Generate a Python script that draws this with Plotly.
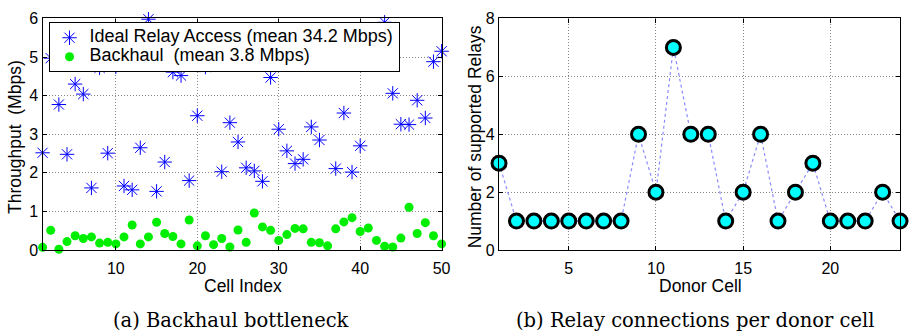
import plotly.graph_objects as go

cell_index = list(range(1, 51))
ideal_relay = [2.52, 4.97, 3.77, 2.48, 4.30, 4.04, 1.61, 4.72, 2.51, 4.75,
               1.66, 1.56, 2.65, 5.98, 1.52, 2.28, 4.61, 4.52, 1.80, 3.48,
               4.74, 5.40, 2.03, 3.30, 2.80, 2.13, 2.05, 1.78, 4.47, 3.13,
               2.57, 2.24, 2.35, 3.19, 2.85, 5.30, 2.11, 3.55, 2.02, 2.70,
               5.50, 5.20, 5.90, 4.06, 3.26, 3.25, 3.88, 3.42, 4.88, 5.15]
backhaul = [0.07, 0.51, 0.02, 0.22, 0.37, 0.30, 0.34, 0.18, 0.20, 0.16,
            0.34, 0.65, 0.16, 0.34, 0.72, 0.43, 0.35, 0.16, 0.78, 0.11,
            0.37, 0.14, 0.30, 0.08, 0.52, 0.20, 0.96, 0.60, 0.51, 0.25,
            0.40, 0.56, 0.55, 0.20, 0.19, 0.11, 0.55, 0.73, 0.84, 0.48,
            0.57, 0.25, 0.10, 0.08, 0.31, 1.11, 0.43, 0.71, 0.37, 0.16]
donor_cell = list(range(1, 25))
relays = [3, 1, 1, 1, 1, 1, 1, 1, 4, 2, 7, 4, 4, 1, 2, 4, 1, 2, 3, 1, 1, 1, 2, 1]

W, H = 914, 335
FONT = "Liberation Sans, Arial, sans-serif"
SERIF = "DejaVu Serif, serif"
LEG = '<span style="font-size:18px">%s</span>'

fig = go.Figure()
fig.add_trace(go.Scatter(x=cell_index, y=ideal_relay, mode="markers",
                         name=LEG % "Ideal Relay Access (mean 34.2 Mbps)",
                         marker=dict(symbol="asterisk-open", size=12, color="#0000ff",
                                     line=dict(color="#0000ff", width=1)),
                         cliponaxis=False, xaxis="x", yaxis="y"))
fig.add_trace(go.Scatter(x=cell_index, y=backhaul, mode="markers",
                         name=LEG % "Backhaul\u00a0 (mean 3.8 Mbps)",
                         marker=dict(symbol="circle", size=9, color="#00ee00"),
                         cliponaxis=False, xaxis="x", yaxis="y"))
fig.add_trace(go.Scatter(x=donor_cell, y=relays, mode="lines+markers", showlegend=False,
                         line=dict(color="rgba(60,60,255,0.6)", width=1.2, dash="dot"),
                         marker=dict(symbol="circle", size=14, color="#00ffff",
                                     line=dict(color="black", width=3)),
                         cliponaxis=False, xaxis="x2", yaxis="y2"))

ax_common = dict(showline=True, linecolor="black", linewidth=1.2, mirror="ticks",
                 ticks="inside", ticklen=4, tickcolor="black",
                 showgrid=True, gridcolor="#888888", griddash="1px,2px", gridwidth=1,
                 zeroline=False, tickfont=dict(family=FONT, size=16, color="black"))

yd = [(H - 255) / H, (H - 11) / H]
fig.update_layout(
    width=W, height=H, margin=dict(l=0, r=0, t=0, b=0),
    paper_bgcolor="white", plot_bgcolor="white",
    xaxis=dict(domain=[43 / W, 446 / W], range=[1, 50], tickvals=[10, 20, 30, 40, 50],
               anchor="y", ticklabelstandoff=4, **ax_common),
    yaxis=dict(domain=yd, range=[0, 6], tickvals=[0, 1, 2, 3, 4, 5, 6],
               anchor="x", **ax_common),
    xaxis2=dict(domain=[504 / W, 909 / W], range=[1, 24], tickvals=[5, 10, 15, 20],
                anchor="y2", ticklabelstandoff=4, **ax_common),
    yaxis2=dict(domain=yd, range=[0, 8], tickvals=[0, 2, 4, 6, 8],
                anchor="x2", **ax_common),
    legend=dict(x=49 / W, y=1 - 15 / H, xanchor="left", yanchor="top",
                bgcolor="white", bordercolor="black", borderwidth=1,
                font=dict(family=FONT, size=12, color="black"),
                tracegroupgap=0, itemwidth=30),
    showlegend=True,
)

ann = [
    dict(text="Cell Index", x=245 / W, y=1 - 293 / H, size=17.5, family=FONT, angle=0),
    dict(text="Donor Cell", x=707 / W, y=1 - 293 / H, size=17.5, family=FONT, angle=0),
    dict(text="Throughput\u00a0 (Mbps)", x=15 / W, y=1 - 136 / H, size=17.5, family=FONT, angle=-90),
    dict(text="Number of supported Relays", x=480 / W, y=1 - 136 / H, size=17.5, family=FONT, angle=-90),
    dict(text="(a) Backhaul bottleneck", x=233 / W, y=1 - 329 / H, size=19.5, family=SERIF, angle=0),
    dict(text="(b) Relay connections per donor cell", x=702 / W, y=1 - 329 / H, size=19.5, family=SERIF, angle=0),
]
for a in ann:
    fig.add_annotation(text=a["text"], x=a["x"], y=a["y"], xref="paper", yref="paper",
                       showarrow=False, textangle=a["angle"], xanchor="center", yanchor="middle",
                       font=dict(family=a["family"], size=a["size"], color="black"))

fig.write_html("out.html")
